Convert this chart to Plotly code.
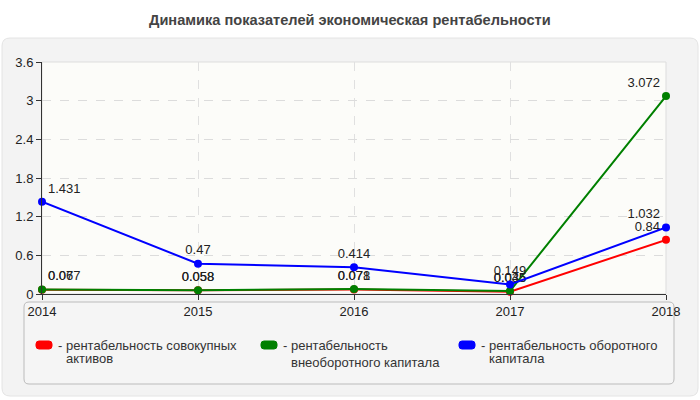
import plotly.graph_objects as go

# data
years = [2014, 2015, 2016, 2017, 2018]
assets_total = [0.067, 0.058, 0.071, 0.035, 0.84]
assets_fixed = [0.07, 0.058, 0.078, 0.045, 3.072]
assets_current = [1.431, 0.47, 0.414, 0.149, 1.032]
series_names = ['рентабельность совокупных<br>активов',
                'рентабельность<br>внеоборотного капитала',
                'рентабельность оборотного<br>капитала']
series_colors = ['#ff0000', '#008000', '#0000ff']

W, H = 700, 400
L, R, T, B = 42, 34, 62, 106


def px_x(v):
    return (v - L) / (W - L - R)


def px_y(v):
    return (H - B - v) / (H - T - B)


def rounded_rect(x0, y0, x1, y1, r):
    # path in paper coords from pixel box
    pts = [
        f"M{px_x(x0 + r)},{px_y(y0)}",
        f"L{px_x(x1 - r)},{px_y(y0)}",
        f"Q{px_x(x1)},{px_y(y0)} {px_x(x1)},{px_y(y0 + r)}",
        f"L{px_x(x1)},{px_y(y1 - r)}",
        f"Q{px_x(x1)},{px_y(y1)} {px_x(x1 - r)},{px_y(y1)}",
        f"L{px_x(x0 + r)},{px_y(y1)}",
        f"Q{px_x(x0)},{px_y(y1)} {px_x(x0)},{px_y(y1 - r)}",
        f"L{px_x(x0)},{px_y(y0 + r)}",
        f"Q{px_x(x0)},{px_y(y0)} {px_x(x0 + r)},{px_y(y0)}",
        "Z",
    ]
    return " ".join(pts)


def positions(n):
    return ['top right'] + ['top center'] * (n - 2) + ['top left']


fig = go.Figure()
for vals, name, color in zip([assets_total, assets_fixed, assets_current], series_names, series_colors):
    fig.add_trace(go.Scatter(
        x=years, y=vals, name=name, mode='lines+markers+text',
        line=dict(color=color, width=2),
        marker=dict(color=color, size=8),
        text=[str(v) for v in vals],
        textposition=positions(len(vals)),
        textfont=dict(size=13, color='#222222'),
        cliponaxis=False,
        showlegend=False,
    ))

shapes = [
    dict(type='path', xref='paper', yref='paper', layer='below',
         path=rounded_rect(2, 38, 698, 396, 8),
         fillcolor='#f3f3f3', line=dict(color='#e4e4e4', width=1)),
    dict(type='rect', xref='paper', yref='paper', layer='below',
         x0=0, x1=1, y0=0, y1=1, fillcolor='#fcfcf9', line=dict(color='#dddddd', width=1)),
    dict(type='path', xref='paper', yref='paper', layer='below',
         path=rounded_rect(24, 302, 674, 384, 5),
         fillcolor='#f5f5f5', line=dict(color='#bbbbbb', width=1)),
]

annotations = [
    dict(text='<b>Динамика показателей экономическая рентабельности</b>',
         xref='paper', yref='paper', x=px_x(350), y=px_y(20),
         xanchor='center', yanchor='middle',
         showarrow=False, font=dict(size=14.6, color='#444444')),
]

legend_x = [36, 261, 459]
for lx, name, color in zip(legend_x, series_names, series_colors):
    shapes.append(dict(type='path', xref='paper', yref='paper',
                       path=rounded_rect(lx, 341, lx + 16, 349, 3),
                       fillcolor=color, line=dict(color=color, width=1)))
    parts = name.split('<br>')
    first = '- ' + parts[0]
    annotations.append(dict(text=first, xref='paper', yref='paper',
                            x=px_x(lx + 20), y=px_y(345), xanchor='left', yanchor='middle',
                            showarrow=False, font=dict(size=13, color='#333333')))
    second_y = 362 if lx == 261 else 358
    annotations.append(dict(text=parts[1], xref='paper', yref='paper',
                            x=px_x(lx + 28), y=px_y(second_y), xanchor='left', yanchor='middle',
                            showarrow=False, font=dict(size=13, color='#333333')))

fig.update_layout(
    width=W, height=H,
    margin=dict(l=L, r=R, t=T, b=B),
    paper_bgcolor='white',
    plot_bgcolor='rgba(0,0,0,0)',
    font=dict(family='Arial, Liberation Sans, sans-serif', size=13, color='#222222'),
    shapes=shapes,
    annotations=annotations,
    showlegend=False,
)
fig.update_xaxes(range=[2014, 2018], tickvals=years, showgrid=True,
                 gridcolor='#e0e0e0', griddash='dash', gridwidth=1,
                 showline=True, linecolor='#333333', linewidth=1,
                 ticks='outside', ticklen=5, tickcolor='#333333', zeroline=False)
fig.update_yaxes(range=[0, 3.6], dtick=0.6, tick0=0, showgrid=True,
                 gridcolor='#dcdcdc', griddash='dash', gridwidth=1,
                 showline=True, linecolor='#333333', linewidth=1,
                 ticks='outside', ticklen=5, tickcolor='#333333', zeroline=False)

fig.write_html("out.html", config={'displayModeBar': False},
               post_script="document.body.style.margin='0';")
